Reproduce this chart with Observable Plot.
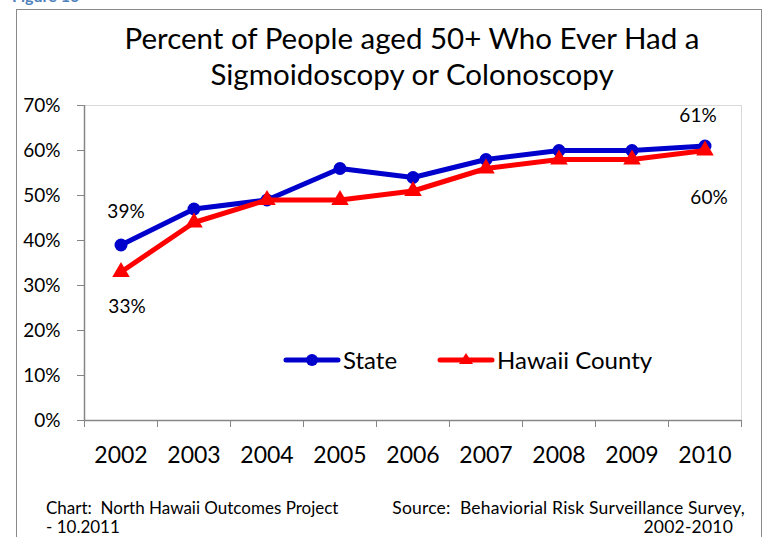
<!DOCTYPE html>
<html><head><meta charset="utf-8">
<script src="https://cdn.jsdelivr.net/npm/d3@7"></script>
<script src="https://cdn.jsdelivr.net/npm/@observablehq/plot@0.6"></script>
<style>
body{margin:0;background:#fff;font-family:Lato,sans-serif;color:#000}
#wrap{position:relative;width:769px;height:537px;overflow:hidden;background:#fff}
#border{position:absolute;left:16px;top:9px;width:746px;height:560px;border:1.5px solid #8a8a8a;box-sizing:border-box}
#fig{position:absolute;left:12px;top:-12px;font-size:16px;font-weight:bold;color:#4F81BD;line-height:16px}
#title{position:absolute;left:0px;width:824px;top:20px;text-align:center;font-size:29.5px;line-height:36px}
#chart{position:absolute;left:0;top:0}
#legend{position:absolute;top:347px;left:283px;font-size:24px;line-height:26px;display:flex;align-items:center}
#legend .item{display:flex;align-items:center}
#foot1{position:absolute;left:46px;top:498px;font-size:17px;line-height:19px}
#foot2{position:absolute;right:24px;top:498px;font-size:17.5px;line-height:19px;text-align:right;letter-spacing:0.2px}
</style></head>
<body>
<div id="wrap">
  <div id="border"></div>
  <div id="fig">Figure 10</div>
  <div id="title">Percent of People aged 50+ Who Ever Had a<br>Sigmoidoscopy or Colonoscopy</div>
  <div id="chart"></div>
  <div id="legend"></div>
  <div id="foot1">Chart:&nbsp; North Hawaii Outcomes Project<br>- 10.2011</div>
  <div id="foot2">Source:&nbsp; Behaviorial Risk Surveillance Survey,<br><span style="margin-right:12px">2002-2010</span></div>
</div>
<script>
const years = [2002, 2003, 2004, 2005, 2006, 2007, 2008, 2009, 2010];
const stateValues = [39, 47, 49, 56, 54, 58, 60, 60, 61];
const hawaiiValues = [33, 44, 49, 49, 51, 56, 58, 58, 60];
const yTicks = [0, 10, 20, 30, 40, 50, 60, 70];
const seriesNames = ["State", "Hawaii County"];
const seriesColors = ["#0000CC", "#FF0000"];

const stateRows = years.map((year, i) => ({year, value: stateValues[i], series: seriesNames[0]}));
const hawaiiRows = years.map((year, i) => ({year, value: hawaiiValues[i], series: seriesNames[1]}));
const bounds = [...years.map(y => y - 0.5), years[years.length - 1] + 0.5];
const first = a => [a[0]];
const last = a => [a[a.length - 1]];
const axisGray = "#868686";

const chart = Plot.plot({
  width: 769, height: 537,
  marginLeft: 84, marginRight: 28, marginTop: 105, marginBottom: 117,
  style: {fontFamily: "Lato, sans-serif", color: "#000", background: "transparent"},
  x: {domain: [bounds[0], bounds[bounds.length - 1]]},
  y: {domain: [0, 70]},
  color: {domain: seriesNames, range: seriesColors},
  marks: [
    Plot.frame({stroke: "#d9d9d9"}),
    Plot.ruleX([bounds[0]], {stroke: axisGray, strokeWidth: 1.5}),
    Plot.ruleY([0], {stroke: axisGray, strokeWidth: 1.5}),
    Plot.axisY({ticks: yTicks, tickFormat: d => d + "%", tickSize: 7, tickPadding: 17, fontSize: 19, stroke: axisGray, label: null}),
    Plot.axisX({ticks: bounds, tickFormat: () => "", tickSize: 7, stroke: axisGray, label: null}),
    Plot.axisX({ticks: years, tickFormat: d => String(d), tickSize: 0, tickPadding: 26, fontSize: 23, label: null}),
    Plot.line(stateRows, {x: "year", y: "value", stroke: "series", strokeWidth: 5}),
    Plot.dot(stateRows, {x: "year", y: "value", fill: "series", r: 6.5}),
    Plot.line(hawaiiRows, {x: "year", y: "value", stroke: "series", strokeWidth: 5}),
    Plot.dot(hawaiiRows, {x: "year", y: "value", fill: "series", symbol: "triangle", r: 6.5}),
    Plot.text(first(stateRows), {x: "year", y: "value", text: d => d.value + "%", dy: -33, dx: 5, fontSize: 19}),
    Plot.text(last(stateRows), {x: "year", y: "value", text: d => d.value + "%", dy: -30, dx: -7, fontSize: 19}),
    Plot.text(first(hawaiiRows), {x: "year", y: "value", text: d => d.value + "%", dy: 35, dx: 6, fontSize: 19}),
    Plot.text(last(hawaiiRows), {x: "year", y: "value", text: d => d.value + "%", dy: 47, dx: 4, fontSize: 19})
  ]
});
document.getElementById("chart").appendChild(chart);

// legend
const legend = document.getElementById("legend");
seriesNames.forEach((name, i) => {
  const item = document.createElement("div");
  item.className = "item";
  if (i > 0) item.style.marginLeft = "40px";
  const c = seriesColors[i];
  const marker = i === 0
    ? `<circle cx="29" cy="13" r="6" fill="${c}"/>`
    : `<path d="M29,6 L36,17 L22,17 Z" fill="${c}"/>`;
  item.innerHTML = `<svg width="58" height="26"><line x1="3" y1="13" x2="55" y2="13" stroke="${c}" stroke-width="5" stroke-linecap="round"/>${marker}</svg><span style="margin-left:2px">${name}</span>`;
  legend.appendChild(item);
});
</script>
</body></html>
